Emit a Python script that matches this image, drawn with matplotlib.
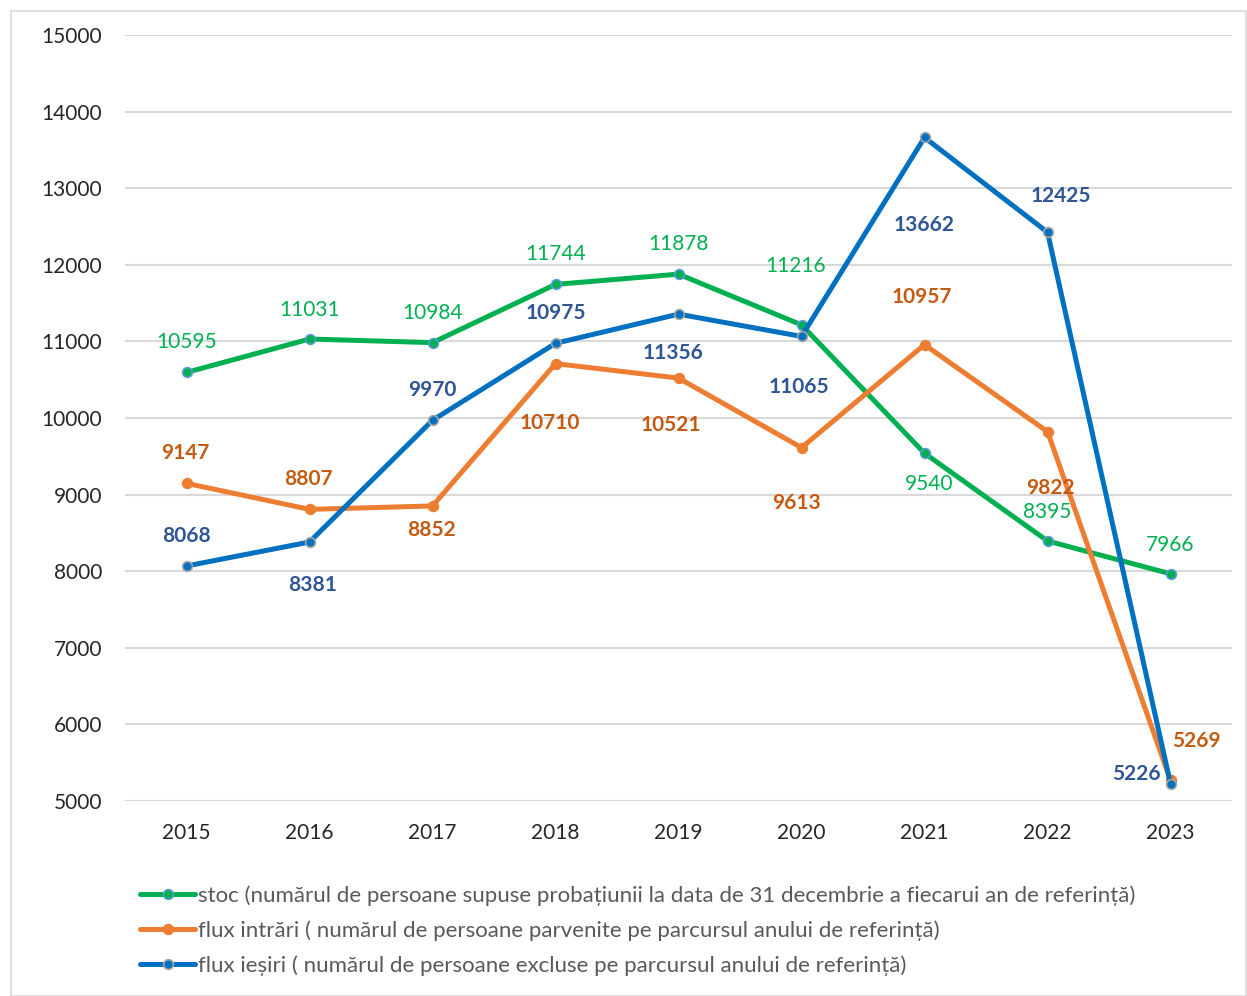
import matplotlib
matplotlib.use("Agg")
import matplotlib.pyplot as plt
from matplotlib.patches import Rectangle

plt.rcParams['font.family'] = ['Lato', 'DejaVu Sans']

# data
years = ['2015', '2016', '2017', '2018', '2019', '2020', '2021', '2022', '2023']
stoc = [10595, 11031, 10984, 11744, 11878, 11216, 9540, 8395, 7966]
intrari = [9147, 8807, 8852, 10710, 10521, 9613, 10957, 9822, 5269]
iesiri = [8068, 8381, 9970, 10975, 11356, 11065, 13662, 12425, 5226]

labels = [
    'stoc (numărul de persoane supuse probațiunii la data de 31 decembrie a fiecarui an de referință)',
    'flux intrări ( numărul de persoane parvenite pe parcursul anului de referință)',
    'flux ieșiri ( numărul de persoane excluse pe parcursul anului de referință)',
]

# label offsets in pixels (dx, dy), dy positive = up
off_stoc = [(0, 30), (0, 29), (0, 30), (0, 30), (0, 30), (-6, 59), (5, -31), (0, 29), (0, 29)]
off_intrari = [(-1, 30), (-1, 30), (-1, -24), (-6, -59), (-8, -47), (-5, -55), (-3, 48), (3, -56), (26, 39)]
off_iesiri = [(0, 30), (3, -43), (0, 30), (0, 30), (-5, -39), (-3, -51), (0, -88), (13, 36), (-34, 10)]

fig = plt.figure(figsize=(12.47, 9.96), dpi=100)
ax = fig.add_axes([125 / 1247, 1 - 801 / 996, 1107 / 1247, 766 / 996])

x = list(range(len(years)))

series = [
    (stoc, '#00B050', '#00B050', '#5B9BD5', off_stoc, '#00B050', 'normal'),
    (intrari, '#ED7D31', '#ED7D31', '#ED7D31', off_intrari, '#C55A11', 'bold'),
    (iesiri, '#0070C0', '#0070C0', '#A5A5A5', off_iesiri, '#2F5597', 'bold'),
]

handles = []
for vals, col, mfc, mec, offs, lcol, lw in series:
    h, = ax.plot(x, vals, color=col, lw=3.6, marker='o', ms=7, mfc=mfc, mec=mec, mew=1.2,
                 solid_capstyle='round', zorder=3)
    handles.append(h)
    for xi, v, (dx, dy) in zip(x, vals, offs):
        ax.annotate(str(v), (xi, v), xytext=(dx * 0.72, dy * 0.72), textcoords='offset points',
                    ha='center', va='center', color=lcol, fontsize=15, fontweight=lw, zorder=4)

ax.set_xlim(-0.5, len(years) - 0.5)
ax.set_ylim(5000, 15000)
ax.set_yticks(range(5000, 15001, 1000))
ax.set_xticks(x)
ax.set_xticklabels(years)
ax.grid(axis='y', color='#D9D9D9', lw=1.5, zorder=0)
for s in ax.spines.values():
    s.set_visible(False)
ax.tick_params(length=0, labelsize=15, labelcolor='#262626')
ax.tick_params(axis='y', pad=16.5)
ax.tick_params(axis='x', pad=16)

fig.legend(handles, labels, loc='upper left', bbox_to_anchor=(140 / 1247, 1 - 885 / 996),
           frameon=False, fontsize=16, labelcolor='#595959', handlelength=2.48, handletextpad=0.14,
           labelspacing=0.66, borderpad=0, borderaxespad=0)

fig.patches.append(Rectangle((11 / 1247, 0), 1 - 11 / 1247 - 0.001, 1 - 11 / 996, transform=fig.transFigure,
                             fill=False, edgecolor='#D9D9D9', lw=1.2))

fig.savefig('out.png', dpi=100)
